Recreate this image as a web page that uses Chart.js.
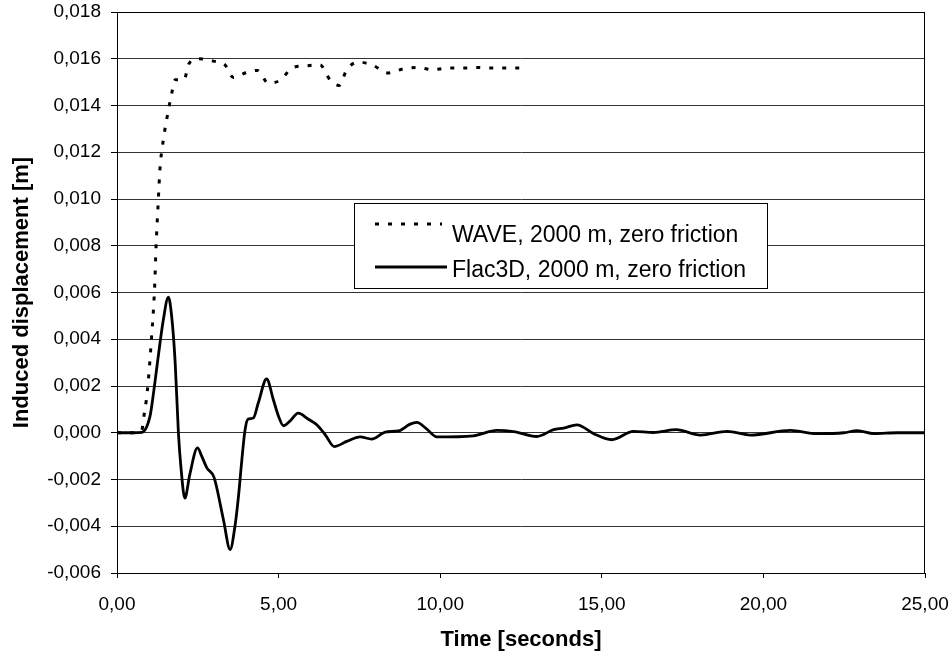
<!DOCTYPE html>
<html>
<head>
<meta charset="utf-8">
<script src="https://cdn.jsdelivr.net/npm/chart.js@4"></script>
<style>
  html, body { margin: 0; padding: 0; background: #fff; }
  #wrap { width: 952px; height: 659px; }
</style>
</head>
<body>
<div id="wrap"><canvas id="chart" width="952" height="659"></canvas></div>
<script>
// WAVE model, dotted line
var waveTime = [0, 0.5, 0.77, 0.81, 0.94, 1.07, 1.16, 1.21, 1.28, 1.33, 1.43, 1.59, 1.69, 1.80, 2.07, 2.23, 2.50, 2.98, 3.34, 3.60, 3.96, 4.35, 4.68, 5.07, 5.41, 5.87, 6.28, 6.59, 6.87, 7.11, 7.47, 7.93, 8.38, 8.84, 9.30, 9.76, 10.21, 10.67, 11.14, 11.60, 12.04, 12.50];
var waveDisp = [0, 0, 0.0001, 0.0005, 0.0018, 0.0041, 0.0061, 0.0080, 0.0100, 0.0113, 0.0125, 0.0138, 0.0145, 0.0151, 0.0151, 0.0158, 0.0160, 0.0159, 0.01574, 0.0152, 0.01539, 0.0155, 0.01496, 0.0151, 0.0156, 0.0157, 0.01574, 0.0151, 0.01486, 0.01553, 0.01586, 0.01571, 0.01539, 0.01556, 0.01563, 0.01553, 0.0156, 0.0156, 0.01563, 0.0156, 0.0156, 0.0156];

// Flac3D model, solid line
var flacTime = [0, 0.5, 0.77, 1.02, 1.12, 1.28, 1.43, 1.59, 1.69, 1.80, 1.90, 1.98, 2.10, 2.25, 2.49, 2.62, 2.78, 3.00, 3.29, 3.50, 3.65, 3.76, 3.86, 3.96, 4.05, 4.22, 4.37, 4.63, 4.84, 5.00, 5.15, 5.35, 5.61, 5.90, 6.18, 6.45, 6.72, 7.11, 7.52, 7.88, 8.30, 8.71, 9.07, 9.28, 9.55, 9.90, 11.03, 11.75, 12.27, 12.99, 13.51, 13.82, 14.23, 14.75, 15.31, 15.98, 16.60, 17.30, 18.05, 18.88, 19.60, 20.84, 21.66, 22.49, 22.90, 23.42, 24.14, 25.0];
var flacDisp = [0, 0, 0.00002, 0.0007, 0.0016, 0.0033, 0.0048, 0.0058, 0.0050, 0.0030, 0.0000, -0.0015, -0.0028, -0.0018, -0.00065, -0.0010, -0.0015, -0.0019, -0.0037, -0.0050, -0.0040, -0.0027, -0.0012, 0.0001, 0.00058, 0.00063, 0.00127, 0.0023, 0.0014, 0.0007, 0.0003, 0.0005, 0.00084, 0.0006, 0.00034, -0.0001, -0.00059, -0.00037, -0.00018, -0.00027, 0.00003, 0.00008, 0.00037, 0.00044, 0.0002, -0.00018, -0.00013, 0.0001, 0.00005, -0.00016, 0.00013, 0.0002, 0.00034, -0.00004, -0.0003, 0.00006, 0.00001, 0.00013, -0.0001, 0.00006, -0.0001, 0.0001, -0.00004, 0, 0.00009, -0.00004, 0, 0];

var seriesNames = ["WAVE, 2000 m, zero friction", "Flac3D, 2000 m, zero friction"];
var xTicks = [0, 5, 10, 15, 20, 25];

var fontFam = "'Liberation Sans', Arial, sans-serif";

function toPoints(xs, ys) {
	var pts = [];
	for (var i = 0; i < xs.length; i++)
		pts.push({x: xs[i], y: ys[i]});
	return pts;
}

// plot frame + boxed legend sitting inside the plot area
var frameAndKey = {
	id: 'frameAndKey',
	afterDatasetsDraw: function(chart) {
		var ctx = chart.ctx;
		var a = chart.chartArea;
		ctx.save();
		ctx.strokeStyle = '#000';
		ctx.lineWidth = 1;
		ctx.setLineDash([]);
		ctx.strokeRect(Math.round(a.left) + 0.5, Math.round(a.top) + 0.5, Math.round(a.right - a.left) - 1, Math.round(a.bottom - a.top));

		var bx = Math.round(a.left) + 237, by = Math.round(a.top) + 191, bw = 413, bh = 85;
		ctx.fillStyle = '#fff';
		ctx.fillRect(bx, by, bw, bh);
		ctx.strokeRect(bx + 0.5, by + 0.5, bw, bh);

		var lineY = [by + 21, by + 64];
		var textY = [by + 33, by + 68];
		var lineEnd = [bx + 88, bx + 93];
		ctx.font = '23px ' + fontFam;
		ctx.textBaseline = 'middle';
		ctx.textAlign = 'left';
		chart.data.datasets.forEach(function(ds, i) {
			ctx.strokeStyle = ds.borderColor;
			ctx.lineWidth = ds.borderWidth;
			ctx.setLineDash(ds.borderDash || []);
			ctx.beginPath();
			ctx.moveTo(bx + 21, lineY[i]);
			ctx.lineTo(lineEnd[i], lineY[i]);
			ctx.stroke();
			ctx.fillStyle = '#000';
			ctx.fillText(ds.label, bx + 98, textY[i]);
		});
		ctx.restore();
	}
};

var commaFmt = function(digits) {
	return function(v) { return Number(v).toFixed(digits).replace('.', ','); };
};

new Chart(document.getElementById('chart').getContext('2d'), {
	type: 'line',
	data: {
		datasets: [{
			label: seriesNames[0],
			data: toPoints(waveTime, waveDisp),
			borderColor: '#000',
			borderWidth: 3,
			borderDash: [4, 9],
			pointRadius: 0,
			cubicInterpolationMode: 'monotone',
			fill: false
		}, {
			label: seriesNames[1],
			data: toPoints(flacTime, flacDisp),
			borderColor: '#000',
			borderWidth: 2.8,
			pointRadius: 0,
			cubicInterpolationMode: 'monotone',
			fill: false
		}]
	},
	options: {
		responsive: false,
		animation: false,
		events: [],
		layout: { padding: { left: 0, right: 27, top: 12, bottom: 0 } },
		plugins: {
			legend: { display: false },
			tooltip: { enabled: false }
		},
		scales: {
			x: {
				type: 'linear',
				min: 0,
				max: 25,
				afterBuildTicks: function(scale) {
					scale.ticks = xTicks.map(function(v) { return {value: v}; });
				},
				afterFit: function(scale) {
					scale.height = 86;
					scale.paddingLeft = 0;
					scale.paddingRight = 0;
				},
				ticks: {
					color: '#000',
					font: { family: fontFam, size: 19 },
					padding: 15,
					maxRotation: 0,
					callback: commaFmt(2)
				},
				grid: {
					drawOnChartArea: false,
					drawTicks: true,
					tickLength: 5,
					tickColor: '#000'
				},
				border: { color: '#000', width: 1 },
				title: {
					display: true,
					text: 'Time [seconds]',
					color: '#000',
					font: { family: fontFam, size: 22, weight: 'bold' },
					padding: { top: 0, bottom: 6 }
				}
			},
			y: {
				min: -0.006,
				max: 0.018,
				afterFit: function(scale) {
					scale.width = 117;
					scale.paddingTop = 0;
					scale.paddingBottom = 0;
				},
				ticks: {
					stepSize: 0.002,
					color: '#000',
					font: { family: fontFam, size: 19 },
					padding: 10,
					callback: commaFmt(3)
				},
				grid: {
					color: '#333',
					lineWidth: 1,
					drawTicks: true,
					tickLength: 6,
					tickColor: '#000'
				},
				border: { color: '#000', width: 1 },
				title: {
					display: true,
					text: 'Induced displacement [m]',
					color: '#000',
					font: { family: fontFam, size: 22, weight: 'bold' },
					padding: { top: 9, bottom: 0 }
				}
			}
		}
	},
	plugins: [frameAndKey]
});
</script>
</body>
</html>
